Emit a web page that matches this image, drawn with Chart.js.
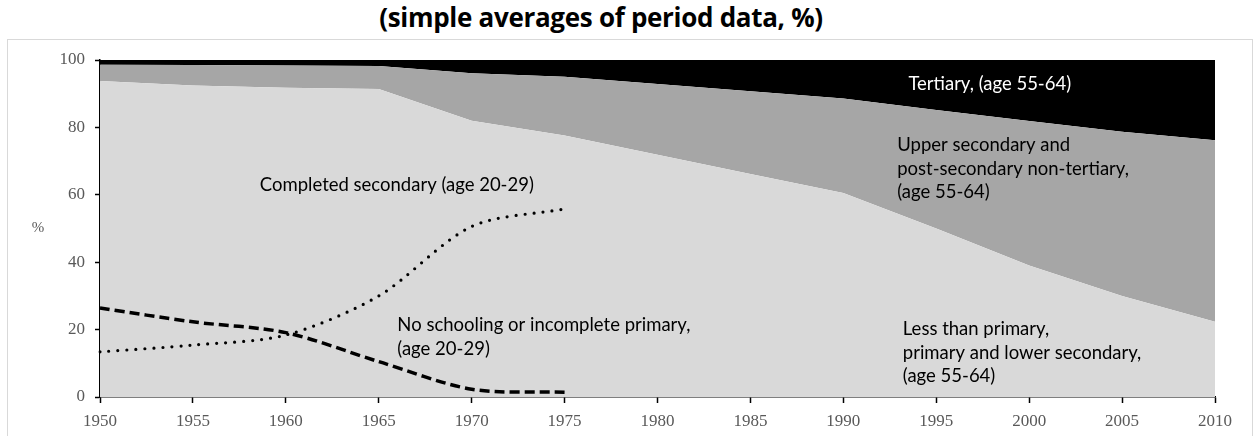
<!DOCTYPE html>
<html>
<head>
<meta charset="utf-8">
<script src="https://cdn.jsdelivr.net/npm/chart.js@4"></script>
<style>
  body { margin: 0; background: #fff; }
  #wrap { position: relative; width: 1255px; height: 436px; overflow: hidden; }
  #title {
    position: absolute; left: 0; top: -1px; width: 1202px; text-align: center;
    font: bold 26px "Open Sans", sans-serif; color: #000; letter-spacing: -0.3px;
  }
  #frame {
    position: absolute; left: 7px; top: 39px; width: 1244px; height: 420px;
    border: 1px solid #d9d9d9;
  }
  #chart { position: absolute; left: 0; top: 0; }
</style>
</head>
<body>
<div id="wrap">
  <div id="title">(simple averages of period data, %)</div>
  <div id="frame"></div>
  <canvas id="chart" width="1255" height="436"></canvas>
</div>
<script>
const years = ["1950", "1955", "1960", "1965", "1970", "1975", "1980", "1985", "1990", "1995", "2000", "2005", "2010"];
const yTicks = [0, 20, 40, 60, 80, 100];

// age 55-64 attainment shares, stacked
const lowerSecondary = [93.8, 92.4, 91.8, 91.4, 82.0, 77.6, 71.9, 66.2, 60.5, 50.0, 39.0, 30.0, 22.3];
const upperSecondary = [4.8, 6.1, 6.6, 6.8, 14.1, 17.4, 21.0, 24.5, 28.1, 35.2, 42.9, 48.7, 53.9];
const tertiary = [1.4, 1.5, 1.6, 1.8, 3.9, 5.0, 7.1, 9.3, 11.4, 14.8, 18.1, 21.3, 23.8];

// age 20-29
const noSchooling = [26.4, 22.3, 19.1, 10.5, 2.3, 1.4, null, null, null, null, null, null, null];
const completedSecondary = [13.4, 15.4, 18.4, 30.0, 50.6, 55.8, null, null, null, null, null, null, null];

const annotations = [
  { lines: ["Tertiary, (age 55-64)"], year: 1993.5, value: 91.0, color: "#fff" },
  { lines: ["Upper secondary and", "post-secondary non-tertiary,", "(age 55-64)"], year: 1992.9, value: 72.9, color: "#000" },
  { lines: ["Completed secondary (age 20-29)"], year: 1958.6, value: 61.2, color: "#000" },
  { lines: ["No schooling or incomplete primary,", "(age 20-29)"], year: 1966.0, value: 19.5, color: "#000" },
  { lines: ["Less than primary,", "primary and lower secondary,", "(age 55-64)"], year: 1993.2, value: 18.3, color: "#000" },
];

const serif = { family: "'Liberation Serif', 'Times New Roman', serif", size: 17 };

const annotationPlugin = {
  id: "annotationText",
  afterDatasetsDraw(chart) {
    const { ctx, chartArea, scales } = chart;
    ctx.save();
    ctx.font = "18.5px Lato, sans-serif";
    ctx.textAlign = "left";
    ctx.textBaseline = "alphabetic";
    annotations.forEach((a) => {
      const x = scales.x.getPixelForValue((a.year - 1950) / 5);
      const y = scales.y.getPixelForValue(a.value);
      ctx.fillStyle = a.color;
      a.lines.forEach((line, i) => ctx.fillText(line, x, y + i * 23.5));
    });
    // horizontal y-axis title
    ctx.font = "15px " + serif.family;
    ctx.fillStyle = "#595959";
    ctx.textAlign = "center";
    ctx.textBaseline = "middle";
    ctx.fillText("%", chartArea.left - 62, (chartArea.top + chartArea.bottom) / 2);
    ctx.restore();
  },
};

const areaStyle = (color) => ({
  backgroundColor: color,
  borderWidth: 0,
  pointRadius: 0,
  tension: 0,
  stack: "attainment",
  order: 1,
});

const config = {
  type: "line",
  data: {
    labels: years,
    datasets: [
      { label: "Less than primary, primary and lower secondary", data: lowerSecondary, fill: "origin", ...areaStyle("#d9d9d9") },
      { label: "Upper secondary and post-secondary non-tertiary", data: upperSecondary, fill: "-1", ...areaStyle("#a6a6a6") },
      { label: "Tertiary", data: tertiary, fill: "-1", ...areaStyle("#000000") },
      {
        label: "No schooling or incomplete primary",
        data: noSchooling,
        stack: "noSchooling",
        order: 0,
        fill: false,
        borderColor: "#000",
        borderWidth: 3.5,
        borderDash: [10, 5],
        pointRadius: 0,
        tension: 0.3,
        spanGaps: false,
      },
      {
        label: "Completed secondary",
        data: completedSecondary,
        stack: "completedSecondary",
        order: 0,
        fill: false,
        borderColor: "#000",
        borderWidth: 3.2,
        borderDash: [0, 9],
        borderCapStyle: "round",
        pointRadius: 0,
        tension: 0.3,
        spanGaps: false,
      },
    ],
  },
  options: {
    responsive: false,
    animation: false,
    layout: { padding: { left: 0, right: 40, top: 60, bottom: 0 } },
    plugins: {
      legend: { display: false },
      tooltip: { enabled: false },
      title: { display: false },
    },
    scales: {
      x: {
        offset: false,
        grid: { drawOnChartArea: false, drawTicks: true, tickLength: 6, tickColor: "#000", tickWidth: 1.5 },
        border: { color: "#000", width: 1.5 },
        ticks: { font: serif, color: "#595959", padding: 8, autoSkip: false, maxRotation: 0 },
        afterFit: (scale) => { scale.height = 39; },
      },
      y: {
        stacked: true,
        min: 0,
        max: 100,
        afterBuildTicks: (scale) => { scale.ticks = yTicks.map((v) => ({ value: v })); },
        grid: { drawOnChartArea: false, drawTicks: true, tickLength: 5, tickColor: "#000", tickWidth: 1.5 },
        border: { color: "#000", width: 1.5 },
        ticks: { font: serif, color: "#595959", padding: 10 },
        afterFit: (scale) => { scale.width = 100; },
      },
    },
  },
  plugins: [annotationPlugin],
};

new Chart(document.getElementById("chart"), config);
</script>
</body>
</html>
